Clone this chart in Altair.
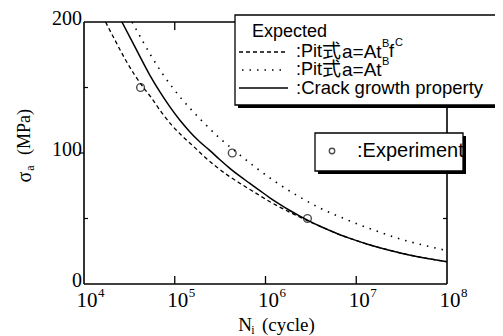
import altair as alt
import pandas as pd

# ---- data ----
# Crack growth property (solid)
crack_logN = [4.418, 4.55, 4.725, 4.835, 4.945, 5.055, 5.165, 5.275, 5.385, 5.495, 5.604, 5.714,
              5.824, 5.934, 6.044, 6.154, 6.264, 6.374, 6.484, 6.594, 6.703, 6.813, 6.923, 7.143,
              7.363, 7.582, 7.80, 8.0]
crack_sigma = [200, 182.5, 159.5, 146.8, 135.4, 125.2, 116.3, 108.6, 102.0, 95.0, 88.5, 82.5,
               77.0, 71.5, 66.0, 61.0, 56.3, 52.0, 48.0, 44.3, 41.0, 37.8, 35.0, 30.0,
               25.8, 22.2, 19.3, 17.0]
# Pit式 a=At^B f^C (dashed)
pitfc_logN = [4.238, 4.35, 4.45, 4.55, 4.66, 4.744, 4.854, 4.964, 5.074, 5.2, 5.33, 5.458, 5.604,
              5.75, 5.898, 6.044, 6.19, 6.35, 6.484, 6.594, 6.703, 6.813, 6.923, 7.143, 7.363,
              7.582, 7.80, 8.0]
pitfc_sigma = [200, 185, 172, 160.5, 149.5, 142, 131, 121.5, 113.5, 105.5, 97, 89.5, 82,
               75.5, 69.2, 63, 57.5, 52, 47.6, 44.3, 41.0, 37.8, 35.0, 30.0, 25.8,
               22.2, 19.3, 17.0]
# Pit式 a=At^B (dotted)
pit_logN = [4.53, 4.65, 4.75, 4.86, 4.97, 5.08, 5.19, 5.3, 5.5, 5.7, 5.9, 6.1, 6.35, 6.6, 6.9,
            7.2, 7.5, 7.75, 8.0]
pit_sigma = [200, 185, 173, 161, 150.5, 141, 132.5, 124.5, 111, 99.5, 88.5, 78.5, 67.5, 58, 49,
             41, 34, 29.5, 25.5]
# Experiment
exp_N = [4.2e4, 4.3e5, 2.9e6]
exp_sigma = [150, 100, 50]

x_tick_exps = [4, 5, 6, 7, 8]
x_minor_N = [1e5, 1e6, 1e7]
y_label_values = [0, 100, 200]

SERIF = "Liberation Serif, Times New Roman, serif"
SANS = "Liberation Sans, Arial, Noto Sans CJK JP, sans-serif"
CJK = "Noto Sans CJK JP, sans-serif"

W, H = 363, 262
xs = alt.Scale(type="log", domain=[1e4, 1e8])
ys = alt.Scale(domain=[0, 200])
one = pd.DataFrame({"k": [0]})


def X():
    return alt.X("N:Q", scale=xs, axis=None)


def Y():
    return alt.Y("sigma:Q", scale=ys, axis=None)


def curve(logN, sigma, width, dash=None):
    df = pd.DataFrame({"N": [10 ** v for v in logN], "sigma": sigma})
    kw = dict(color="black", strokeWidth=width, interpolate="monotone", clip=True)
    if dash is not None:
        kw["strokeDash"] = dash
    return alt.Chart(df).mark_line(**kw).encode(x=X(), y=Y())


def txt(s, x, y, size, font, align="left", angle=0):
    kw = dict(text=s, fontSize=size, font=font, align=align, baseline="middle", color="black")
    if angle:
        kw["angle"] = angle
    return alt.Chart(one).mark_text(**kw).encode(x=alt.value(x), y=alt.value(y))


def rule(x1, x2, y1, y2, width=1.3, dash=None):
    kw = dict(color="black", strokeWidth=width)
    if dash is not None:
        kw["strokeDash"] = dash
    return alt.Chart(one).mark_rule(**kw).encode(
        x=alt.value(x1), x2=alt.value(x2), y=alt.value(y1), y2=alt.value(y2))


def rect(x1, x2, y1, y2, fill, stroke=None):
    kw = dict(fill=fill)
    if stroke is not None:
        kw["stroke"] = stroke
        kw["strokeWidth"] = 1.3
    return alt.Chart(one).mark_rect(**kw).encode(
        x=alt.value(x1), x2=alt.value(x2), y=alt.value(y1), y2=alt.value(y2))


layers = []
layers.append(curve(pit_logN, pit_sigma, 1.6, [1.5, 6]))
layers.append(curve(pitfc_logN, pitfc_sigma, 1.3, [4, 3]))
layers.append(curve(crack_logN, crack_sigma, 1.5))

exp_df = pd.DataFrame({"N": exp_N, "sigma": exp_sigma})
layers.append(alt.Chart(exp_df).mark_point(shape="circle", filled=False, color="black",
                                           size=60, strokeWidth=1.4).encode(x=X(), y=Y()))

# ticks
xt = pd.DataFrame({"N": x_minor_N})
layers.append(alt.Chart(xt).mark_rule(color="black", strokeWidth=1.3).encode(
    x=X(), y=alt.value(H), y2=alt.value(H - 8)))
layers.append(alt.Chart(xt).mark_rule(color="black", strokeWidth=1.3).encode(
    x=X(), y=alt.value(0), y2=alt.value(8)))
yt_in = pd.DataFrame({"sigma": [50, 150]})
layers.append(alt.Chart(yt_in).mark_rule(color="black", strokeWidth=1.2).encode(
    y=Y(), x=alt.value(0), x2=alt.value(4)))
yt_out = pd.DataFrame({"sigma": [100]})
layers.append(alt.Chart(yt_out).mark_rule(color="black", strokeWidth=1.2).encode(
    y=Y(), x=alt.value(-5), x2=alt.value(0)))
yt_r = pd.DataFrame({"sigma": [50, 100]})
layers.append(alt.Chart(yt_r).mark_rule(color="black", strokeWidth=1.2).encode(
    y=Y(), x=alt.value(W - 4), x2=alt.value(W)))

# frame
layers.append(rule(0, W, 0, 0, 1.6))
layers.append(rule(0, W, H, H, 1.6))
layers.append(rule(0, 0, 0, H, 1.6))
layers.append(rule(W, W, 0, H, 1.6))

# tick labels
xl = pd.DataFrame({"N": [10 ** e for e in x_tick_exps], "exp": [str(e) for e in x_tick_exps]})
layers.append(alt.Chart(xl).mark_text(text="10", fontSize=21, font=SERIF, align="center",
                                      baseline="middle", dx=3, color="black").encode(
    x=X(), y=alt.value(279)))
layers.append(alt.Chart(xl).mark_text(fontSize=13, font=SERIF, align="left",
                                      baseline="middle", dx=14, color="black").encode(
    x=X(), y=alt.value(271), text="exp:N"))
yl = pd.DataFrame({"sigma": y_label_values, "lab": [str(v) for v in y_label_values]})
layers.append(alt.Chart(yl).mark_text(fontSize=20, font=SERIF, align="right", baseline="middle",
                                      dx=-2, dy=-3, color="black").encode(
    x=alt.value(0), y=Y(), text="lab:N"))

# axis titles
layers.append(txt("σ", -59, 155, 20, SERIF, "center", 270))
layers.append(txt("a", -54, 146, 12, SERIF, "center", 270))
layers.append(txt("(MPa)", -59, 110, 18, SERIF, "center", 270))
layers.append(txt("N", 161, 303, 19, SERIF, "center"))
layers.append(txt("i", 169, 308, 12, SERIF, "center"))
layers.append(txt("(cycle)", 178, 303, 19, SERIF, "left"))

# legend 1
layers.append(rect(154, 418, -4, 86, "black"))
layers.append(rect(151, 415, -7, 83, "white", "black"))
layers.append(txt("Expected", 168, 10, 18, SANS))
layers.append(rule(155, 203, 30, 30, 1.3, [4, 3]))
layers.append(rule(158, 203, 48, 48, 1.6, [1.5, 6]))
layers.append(rule(155, 204, 66, 66, 1.5))
for ry in (30, 48):
    layers.append(txt(":Pit", 212, ry, 18, SANS))
    layers.append(txt("式", 238, ry, 19, CJK))
    layers.append(txt("a=At", 258, ry, 19, SANS))
    layers.append(txt("B", 298, ry - 8, 11, SANS))
layers.append(txt("f", 305, 30, 18, SANS))
layers.append(txt("C", 311, 21, 11, SANS))
layers.append(txt(":Crack growth property", 212, 66, 18.5, SANS))

# legend 2
layers.append(rect(234, 382, 114, 152, "black"))
layers.append(rect(231, 379, 111, 149, "white", "black"))
layers.append(alt.Chart(one).mark_point(shape="circle", filled=False, color="black", size=30,
                                        strokeWidth=1.3).encode(x=alt.value(248), y=alt.value(129)))
layers.append(txt(":Experiment", 273, 129, 20, SANS))

chart = alt.layer(*layers).properties(
    width=W, height=H,
    autosize="none",
    padding={"left": 76, "top": 14, "right": 48, "bottom": 52},
    background="white",
).configure_view(stroke="transparent")

chart.save("out.html", embed_options={"renderer": "svg", "actions": False})
